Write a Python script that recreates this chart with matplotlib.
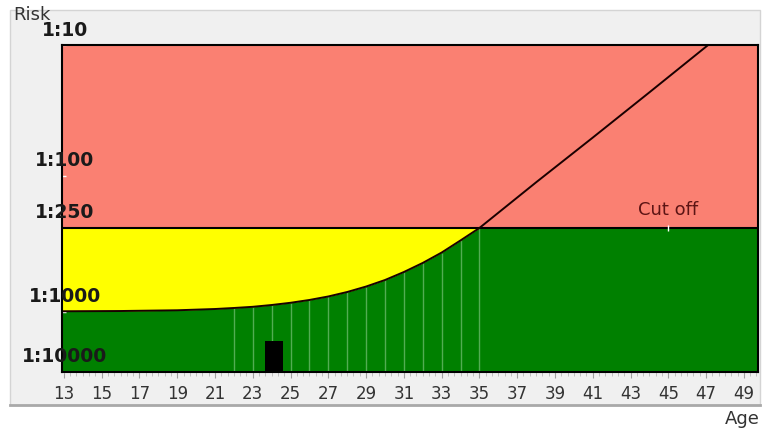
import numpy as np
import matplotlib
matplotlib.use("Agg")
import matplotlib.pyplot as plt
from matplotlib.patches import Rectangle
from matplotlib.lines import Line2D
from matplotlib.ticker import MultipleLocator

# ── colours ──
PANEL = "#f0f0f0"
PINK = "#fa8072"
YELLOW = "#ffff00"
GREEN = "#008000"
GRID_GREEN = "#52ad52"
TEXT = "#333333"

# ── data: maternal age vs risk (1:N) ──
AGES = [12.9, 16, 19, 21, 22, 23, 24, 25, 26, 27, 28, 29, 30, 31, 32, 33, 34, 35,
        38, 41, 44, 47, 48]
RISK = [988, 984, 972, 952, 936, 918, 891, 859, 820, 774, 719, 657, 590, 517, 445, 375, 307, 250,
        112, 51, 23, 10.3, 7.9]
CUTOFF = 250
PATIENT_AGE = 24.1
PATIENT_RISK = 3000
GRID_AGES = list(range(22, 36))

X_TICKS = list(range(13, 50, 2))
Y_TICKS = [10, 100, 250, 1000, 10000]
Y_LABELS = ["1:10", "1:100", "1:250", "1:1000", "1:10000"]

# ── piecewise risk scale (as on the original chart), 0 = 1:10 at top ──
KNOT_LOG = [1.0, np.log10(250), 3.0, 4.0]
KNOT_POS = [0.0, 0.5596, 0.8165, 1.0]
SLOPE_TOP = (KNOT_POS[1] - KNOT_POS[0]) / (KNOT_LOG[1] - KNOT_LOG[0])


def fwd(d):
    lg = np.log10(np.clip(np.asarray(d, dtype=float), 1e-6, None))
    pos = np.interp(lg, KNOT_LOG, KNOT_POS)
    return np.where(lg < KNOT_LOG[0], KNOT_POS[0] - (KNOT_LOG[0] - lg) * SLOPE_TOP, pos)


def inv(p):
    p = np.asarray(p, dtype=float)
    lg = np.interp(p, KNOT_POS, KNOT_LOG)
    lg = np.where(p < 0, KNOT_LOG[0] + p / SLOPE_TOP, lg)
    return 10 ** lg


W, H = 762, 428
fig = plt.figure(figsize=(W / 100, H / 100), dpi=100)
fig.patch.set_facecolor("white")

# grey panel behind chart
fig.add_artist(Rectangle((10 / W, 1 - 405 / H), 750 / W, 395 / H,
                         transform=fig.transFigure, facecolor=PANEL,
                         edgecolor="#d4d4d4", lw=1, zorder=0))
fig.add_artist(Line2D([10 / W, 760 / W], [1 - 405 / H] * 2,
                      color="#a9a9a9", lw=2, zorder=1))

ax = fig.add_axes([62 / W, 56 / H, 696 / W, 327 / H])
ax.set_yscale("function", functions=(fwd, inv))
ax.set_xlim(12.9, 49.75)
ax.set_ylim(10000, 10)

# zones
ax.axhspan(CUTOFF, 10, color=PINK, lw=0, zorder=1)
ax.axhspan(10000, CUTOFF, color=GREEN, lw=0, zorder=1)
risk = np.array(RISK)
ax.fill_between(AGES, risk, CUTOFF, where=risk >= CUTOFF, interpolate=True,
                color=YELLOW, lw=0, zorder=2)

# light year lines under the curve
ax.vlines(GRID_AGES, 10000, np.interp(GRID_AGES, AGES, RISK),
          color=GRID_GREEN, lw=1, zorder=3)

# patient bar
ax.bar([PATIENT_AGE], [PATIENT_RISK - 10000], bottom=10000, width=0.95,
       color="black", zorder=4)

ax.axhline(CUTOFF, color="black", lw=1.5, zorder=5)
ax.plot(AGES, RISK, color="#1a0000", lw=1.4, zorder=6)
ax.plot([45], [CUTOFF], marker="|", color="white", ms=4, mew=1, zorder=7)

for s in ax.spines.values():
    s.set_color("black")
    s.set_linewidth(1.5)
    s.set_zorder(8)

# x axis
ax.set_xticks(X_TICKS)
ax.set_xticklabels([str(t) for t in X_TICKS])
ax.xaxis.set_minor_locator(MultipleLocator(1 / 3))
ax.tick_params(axis="x", which="major", length=4, color="#a0a0a0",
               labelsize=12, labelcolor=TEXT, pad=5.5)
ax.tick_params(axis="x", which="minor", length=3, color="#b8b8b8")

# y axis: ticks only, labels drawn over the edge
ax.set_yticks(Y_TICKS)
ax.set_yticklabels([""] * len(Y_TICKS))
ax.yaxis.set_minor_locator(plt.NullLocator())
ax.tick_params(axis="y", direction="in", color="white", length=3, width=1)
for v, lab in zip(Y_TICKS, Y_LABELS):
    ax.annotate(lab, xy=(0, v), xycoords=("axes fraction", "data"),
                xytext=(3, 15), textcoords="offset pixels",
                ha="center", va="center", fontsize=13.5, fontweight="bold",
                color="#1a1a1a", annotation_clip=False, zorder=9)

ax.annotate("Cut off", xy=(45, CUTOFF), xytext=(0, 18), textcoords="offset pixels",
            ha="center", va="center", fontsize=13, color="#5c1414", zorder=9)

fig.text(13 / W, 1 - 15 / H, "Risk", ha="left", va="center", fontsize=13, color=TEXT)
fig.text(760 / W, 1 - 419 / H, "Age", ha="right", va="center", fontsize=13, color=TEXT)

fig.savefig("out.png", dpi=100, facecolor="white")
